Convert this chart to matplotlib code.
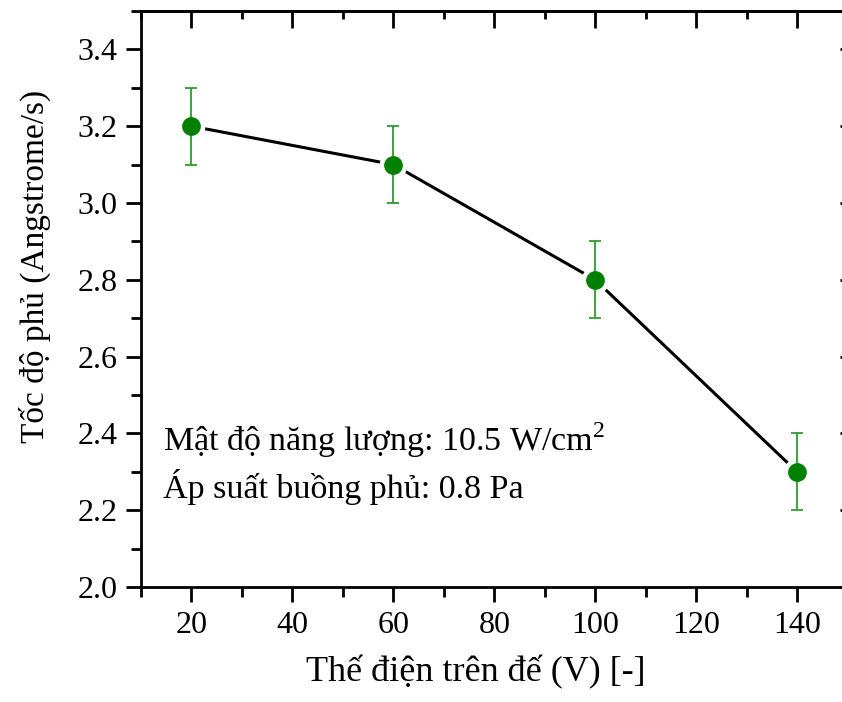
import matplotlib
matplotlib.use('Agg')
import matplotlib.pyplot as plt
from matplotlib.ticker import MultipleLocator

voltage = [20, 60, 100, 140]
rate = [3.2, 3.1, 2.8, 2.3]
rate_err = [0.1, 0.1, 0.1, 0.1]
xticks = [20, 40, 60, 80, 100, 120, 140]
yticks = [2.0, 2.2, 2.4, 2.6, 2.8, 3.0, 3.2, 3.4]

plt.rcParams['font.family'] = ['Liberation Serif', 'DejaVu Serif']
plt.rcParams['mathtext.fontset'] = 'custom'
plt.rcParams['mathtext.rm'] = 'Liberation Serif'

fig = plt.figure(figsize=(8.42, 7.02), dpi=100)
ax = fig.add_axes([141/842, 1-587/702, (847.5-141)/842, (587-11)/702])

# line, with a white halo round each point so the line stops short of it
ax.plot(voltage, rate, '-', color='black', lw=2.2, zorder=1)
ax.plot(voltage, rate, 'o', color='white', ms=20, mec='none', zorder=2)
ax.errorbar(voltage, rate, yerr=rate_err, fmt='none', ecolor='#2e9b2e',
            elinewidth=1.3, capsize=4, capthick=1.3, zorder=3)
ax.plot(voltage, rate, 'o', color='#008000', ms=13.5, mec='none', zorder=4)

ax.set_xlim(10, 150)
ax.set_ylim(2.0, 3.5)
ax.set_xticks(xticks)
ax.set_yticks(yticks)
ax.xaxis.set_minor_locator(MultipleLocator(10))
ax.yaxis.set_minor_locator(MultipleLocator(0.1))
ax.yaxis.set_major_formatter(plt.FuncFormatter(lambda v, p: f'{v:.1f}'))

for s in ax.spines.values():
    s.set_linewidth(2)
ax.tick_params(which='both', width=2, labelsize=23, direction='out',
               top=False, right=False, pad=6)
ax.tick_params(which='major', length=11)
ax.tick_params(which='minor', length=7)

# inward ticks on top and right
top = ax.secondary_xaxis('top')
top.set_xticks(xticks)
top.xaxis.set_minor_locator(MultipleLocator(10))
top.tick_params(which='major', direction='in', length=12, width=2, labeltop=False)
top.tick_params(which='minor', direction='in', length=6, width=2)
top.spines['top'].set_linewidth(2)
right = ax.secondary_yaxis('right')
right.set_yticks(yticks)
right.tick_params(which='major', direction='in', length=6, width=2, labelright=False)
right.tick_params(which='minor', length=0)

ax.set_xlabel('Thế điện trên đế (V) [-]', fontsize=26)
ax.xaxis.set_label_coords(0.474, -0.118)
ax.set_ylabel('Tốc độ phủ (Angstrome/s)', fontsize=24)
ax.yaxis.set_label_coords(-0.127, 0.557)

ax.text(0.031, 0.255, 'Mật độ năng lượng: 10.5 W/cm$^2$', transform=ax.transAxes,
        fontsize=24.5, va='center', ha='left')
ax.text(0.031, 0.173, 'Áp suất buồng phủ: 0.8 Pa', transform=ax.transAxes,
        fontsize=24.5, va='center', ha='left')

fig.savefig('out.png', dpi=100)
